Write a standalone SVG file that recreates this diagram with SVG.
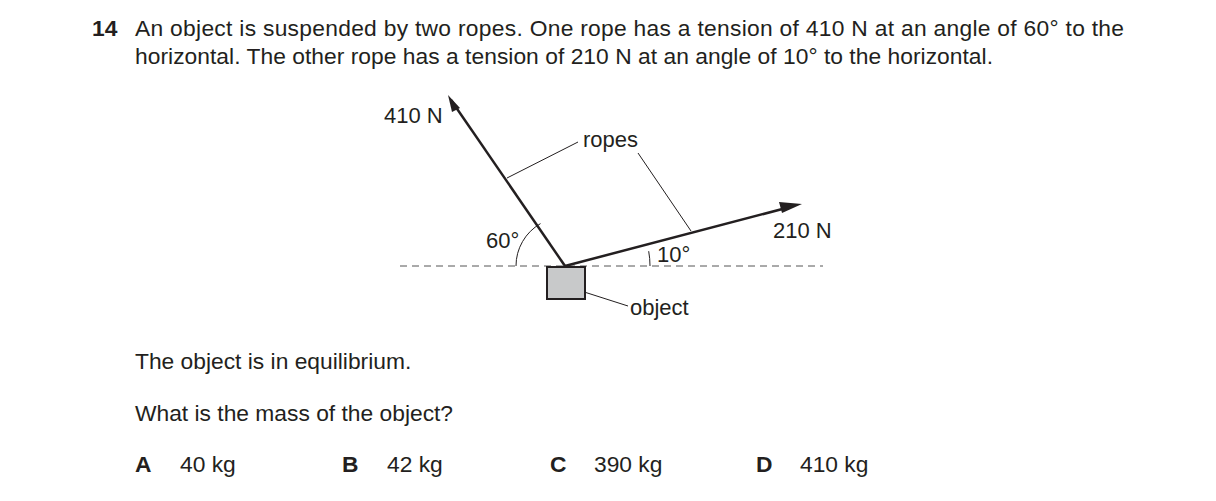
<svg xmlns="http://www.w3.org/2000/svg" width="1216" height="501" viewBox="0 0 1216 501">
<defs>
<style>
text{font-family:"Liberation Sans",Arial,sans-serif;font-size:22.8px;fill:#231f20}
.d{font-size:22px}
.b{font-weight:bold}
.thin{stroke:#231f20;stroke-width:1;fill:none}
.rope{stroke:#231f20;stroke-width:2.5;fill:none}
</style>
</defs>
<rect width="1216" height="501" fill="#fff"/>
<text x="92" y="36" class="b">14</text>
<text x="135" y="36" textLength="989" lengthAdjust="spacing">An object is suspended by two ropes. One rope has a tension of 410 N at an angle of 60° to the</text>
<text x="135" y="64" textLength="858" lengthAdjust="spacing">horizontal. The other rope has a tension of 210 N at an angle of 10° to the horizontal.</text>
<g id="connectors">
<line x1="400" y1="266" x2="823" y2="266" stroke="#555" stroke-width="1" stroke-dasharray="7,5"/>
<line class="rope" x1="565" y1="266" x2="451" y2="100"/>
<path d="M448,95 L460,108 L452,112 Z" fill="#231f20"/>
<line class="rope" x1="565" y1="266" x2="790" y2="207"/>
<path d="M802,204 L782,213 L779,202 Z" fill="#231f20"/>
<path class="thin" d="M516,266 A49,49 0 0 1 540.5,223.6"/>
<path class="thin" d="M650,266 A85,85 0 0 0 648.7,251.2"/>
<line class="thin" x1="507" y1="178" x2="578" y2="142"/>
<line class="thin" x1="638" y1="153" x2="691" y2="231"/>
<line class="thin" x1="578" y1="290" x2="628" y2="306"/>
</g>
<g id="object"><rect x="547" y="267" width="38" height="32" fill="#c8c9ca" stroke="#231f20" stroke-width="2"/></g>
<text class="d" x="384" y="123">410 N</text>
<text class="d" x="583" y="147">ropes</text>
<text class="d" x="773" y="238">210 N</text>
<text class="d" x="486" y="248">60°</text>
<text class="d" x="657" y="262">10°</text>
<text class="d" x="630" y="315">object</text>
<text x="135" y="369">The object is in equilibrium.</text>
<text x="135" y="421">What is the mass of the object?</text>
<text x="135" y="472" class="b">A</text><text x="180" y="472">40 kg</text>
<text x="342" y="472" class="b">B</text><text x="387" y="472">42 kg</text>
<text x="550" y="472" class="b">C</text><text x="594" y="472">390 kg</text>
<text x="756" y="472" class="b">D</text><text x="800" y="472">410 kg</text>
</svg>
